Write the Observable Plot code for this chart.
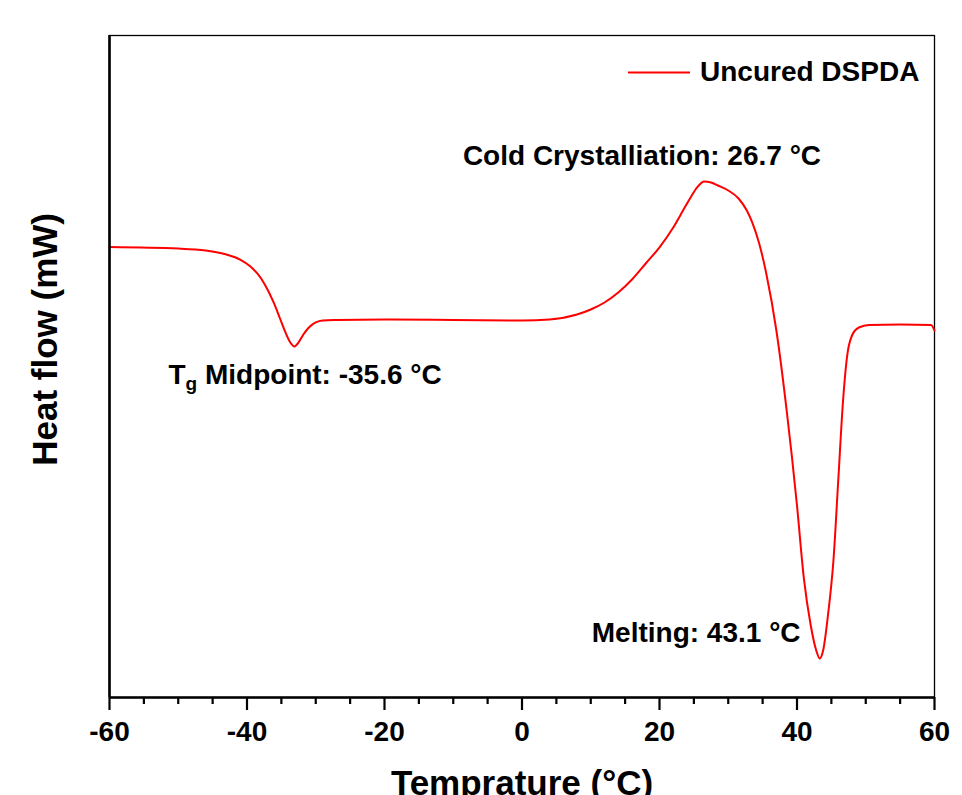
<!DOCTYPE html>
<html><head><meta charset="utf-8">
<script src="https://cdn.jsdelivr.net/npm/d3@7"></script>
<script src="https://cdn.jsdelivr.net/npm/@observablehq/plot@0.6"></script>
<style>body{margin:0;background:#fff;} #chart svg{display:block;}</style>
</head><body><div id="chart"></div>
<script>
// Temperature (°C)
const temperature = [-60,-50,-46,-43,-41,-39.5,-38.5,-37.5,-36.8,-36.0,-35.2,-34.4,-33.7,-33.1,-32.5,-31.8,-31.0,-30.0,-29.0,-27,-20,-10,0,4,8,10,12,14,16,18,20,22,23.5,24.5,25.5,26.5,27.5,28.5,30,31.5,32.7,33.5,34.5,35.5,37,38.5,40,41,42,42.8,43.3,43.8,44.5,45.3,46,46.7,47.3,48,49,50.5,55,59.5,60];
// Heat flow (arbitrary units, axis has no tick labels)
const heatFlow = [6.805,6.782,6.752,6.692,6.616,6.511,6.405,6.254,6.118,5.937,5.725,5.514,5.363,5.302,5.363,5.483,5.589,5.665,5.695,5.702,5.710,5.702,5.695,5.710,5.785,5.861,5.967,6.118,6.314,6.556,6.800,7.100,7.370,7.550,7.710,7.795,7.779,7.734,7.659,7.538,7.356,7.175,6.858,6.420,5.544,4.335,2.900,1.798,1.088,0.710,0.589,0.710,1.239,2.069,3.278,4.486,5.166,5.468,5.589,5.627,5.634,5.627,5.544];
const majorTicks = [-60,-40,-20,0,20,40,60];
const minorTicks = [-55,-50,-45,-35,-30,-25,-15,-10,-5,5,10,15,25,30,35,45,50,55];
const seriesName = "Uncured DSPDA";
const xTitle = "Temprature (°C)";
const yTitle = "Heat flow (mW)";
const notes = ["Cold Crystalliation: 26.7 °C", "Tg Midpoint: -35.6 °C", "Melting: 43.1 °C"];

const data = temperature.map((t, i) => ({t, h: heatFlow[i]}));
const font = "'Liberation Sans', Arial, Helvetica, sans-serif";

const chart = Plot.plot({
  width: 962, height: 795,
  marginLeft: 109, marginRight: 28, marginTop: 35, marginBottom: 98,
  style: {fontFamily: font, fontWeight: "bold", fontSize: "28px", color: "#000", background: "#fff", overflow: "visible"},
  x: {domain: [-60, 60], label: null},
  y: {domain: [0, 10], label: null, axis: null},
  marks: [
    Plot.frame({stroke: "#000", strokeWidth: 1.3}),
    Plot.line(data, {x: "t", y: "h", stroke: "#ff0000", strokeWidth: 2, curve: "monotone-x"}),
    Plot.ruleX([-60], {stroke: "#000", strokeWidth: 2.6}),
    Plot.ruleY([0], {stroke: "#000", strokeWidth: 2.6}),
    Plot.axisX({ticks: majorTicks, tickSize: 13, tickPadding: 11, strokeWidth: 2.2, tickFormat: d => String(d), fontSize: 28, label: null}),
    Plot.axisX({ticks: minorTicks, tickSize: 7, strokeWidth: 2.2, tickFormat: () => "", label: null}),
    // annotations
    Plot.text([notes[0]], {x: 17.45, y: 8.04, text: d => d, textAnchor: "middle", lineAnchor: "bottom", fontSize: 28}),
    Plot.text([notes[1]], {x: -51.42, y: 4.74, text: d => d, textAnchor: "start", lineAnchor: "bottom", fontSize: 28}),
    Plot.text([notes[2]], {x: 10.15, y: 0.84, text: d => d, textAnchor: "start", lineAnchor: "bottom", fontSize: 28}),
    // legend
    Plot.ruleY([9.441], {x1: 15.49, x2: 24.51, stroke: "#ff0000", strokeWidth: 2}),
    Plot.text([seriesName], {x: 57.8, y: 9.32, text: d => d, textAnchor: "end", lineAnchor: "bottom", fontSize: 28}),
    // axis titles
    Plot.text([xTitle], {x: 0, y: -1.48, text: d => d, textAnchor: "middle", lineAnchor: "bottom", fontSize: 35}),
    Plot.text([yTitle], {x: -69.2, y: 5.41, text: d => d, rotate: -90, textAnchor: "middle", lineAnchor: "middle", fontSize: 35})
  ]
});

document.getElementById("chart").appendChild(chart);

// subscript g in "Tg Midpoint"
d3.select(chart).selectAll("text").filter(function() { return this.textContent === notes[1]; })
  .each(function() {
    const t = d3.select(this);
    t.text("");
    t.append("tspan").text("T");
    t.append("tspan").attr("dy", "6").attr("font-size", "19px").text("g");
    t.append("tspan").attr("dy", "-6").text(" Midpoint: -35.6 °C");
  });
</script>
</body></html>
